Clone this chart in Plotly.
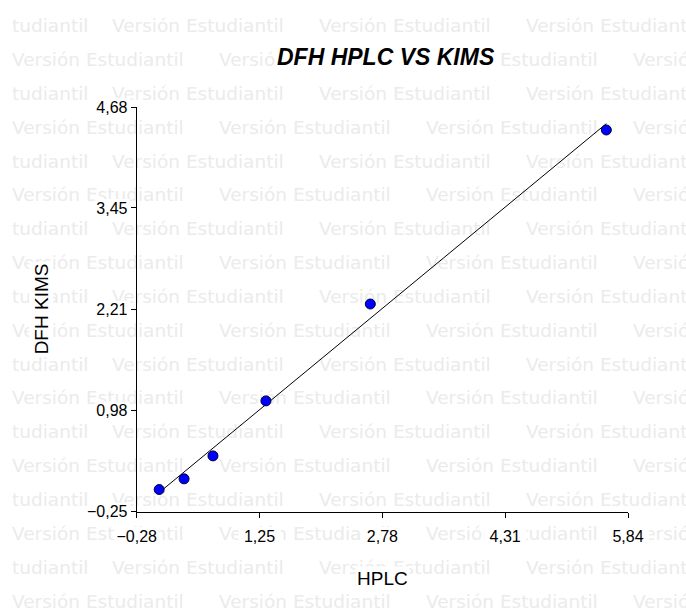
import numpy as np
import plotly.graph_objects as go

# ---- data ----
hplc = [0.00, 0.31, 0.67, 1.33, 2.63, 5.57]
kims = [0.02, 0.15, 0.43, 1.10, 2.28, 4.40]
x_ticks = [-0.28, 1.25, 2.78, 4.31, 5.84]
y_ticks = [-0.25, 0.98, 2.21, 3.45, 4.68]
chart_title = "DFH HPLC VS KIMS"
x_title = "HPLC"
y_title = "DFH KIMS"
watermark = "Versión Estudiantil"
watermark_tail = "tudiantil"

W, H = 686, 608
AX_L, AX_R, AX_T, AX_B = 136.7, 628.0, 107.0, 511.7

# ---- watermark (style layer, pixel coordinates) ----
wx, wy, wt = [], [], []
for i in range(18):
    yy = 27.5 + 33.85 * i
    if i % 2 == 0:
        wx.append(12); wy.append(yy); wt.append(watermark_tail)
        starts = [112 + 207 * k for k in range(3)]
    else:
        starts = [12 + 207 * k for k in range(4)]
    for s in starts:
        wx.append(s); wy.append(yy); wt.append(watermark)

# white boxes behind tick labels (derived from tick positions)
def xpix(v):
    return AX_L + (v - x_ticks[0]) / (x_ticks[-1] - x_ticks[0]) * (AX_R - AX_L)

def ypix(v):
    return AX_B - (v - y_ticks[0]) / (y_ticks[-1] - y_ticks[0]) * (AX_B - AX_T)

bx, by = [], []
def box(x0, x1, y0, y1):
    bx.extend([x0, x1, x1, x0, x0, None])
    by.extend([y0, y0, y1, y1, y0, None])

for t in x_ticks:
    c = xpix(t)
    box(c - 21, c + 21, 527, 545)
for t in y_ticks:
    c = ypix(t)
    box(95, 130, c - 9, c + 9)

fig = go.Figure()
fig.add_trace(go.Scatter(
    x=wx, y=wy, text=wt, mode="text", textposition="middle right",
    textfont=dict(family="DejaVu Sans", size=18.5, color="#ebebeb"),
    xaxis="x", yaxis="y", hoverinfo="skip", showlegend=False, cliponaxis=False))
fig.add_trace(go.Scatter(
    x=bx, y=by, mode="lines", fill="toself", fillcolor="white",
    line=dict(width=0, color="white"), xaxis="x", yaxis="y",
    hoverinfo="skip", showlegend=False))

# regression line from the data
coef = np.polyfit(hplc, kims, 1)
fit_x = [min(hplc), max(hplc)]
fit_y = list(np.polyval(coef, fit_x))
fig.add_trace(go.Scatter(
    x=fit_x, y=fit_y, mode="lines", line=dict(color="black", width=1),
    xaxis="x2", yaxis="y2", showlegend=False, hoverinfo="skip"))
fig.add_trace(go.Scatter(
    x=hplc, y=kims, mode="markers",
    marker=dict(color="#0000ff", size=10, line=dict(color="#000033", width=1)),
    xaxis="x2", yaxis="y2", showlegend=False))

tickfont = dict(family="Liberation Sans, Arial", size=16, color="black")
axis_common = dict(showline=True, linecolor="black", linewidth=1, ticks="outside",
                   ticklen=5, tickwidth=1, tickcolor="black", showgrid=False,
                   zeroline=False, tickformat=".2f", tickfont=tickfont, fixedrange=True,
                   automargin=False)

fig.update_layout(
    width=W, height=H, autosize=False,
    margin=dict(l=0, r=0, t=0, b=0, pad=0, autoexpand=False),
    paper_bgcolor="white", plot_bgcolor="rgba(0,0,0,0)",
    separators=",.",
    xaxis=dict(domain=[0, 1], range=[0, W], visible=False, fixedrange=True, automargin=False),
    yaxis=dict(domain=[0, 1], range=[H, 0], visible=False, fixedrange=True, automargin=False),
    xaxis2=dict(domain=[AX_L / W, AX_R / W], anchor="y2",
                range=[x_ticks[0], x_ticks[-1]], tickvals=x_ticks,
                ticklabelstandoff=5, **axis_common),
    yaxis2=dict(domain=[1 - AX_B / H, 1 - AX_T / H], anchor="x2",
                range=[y_ticks[0], y_ticks[-1]], tickvals=y_ticks, **axis_common),
    annotations=[
        dict(text="<b><i>" + chart_title + "</i></b>", x=386 / W, y=1 - 57 / H,
             xref="paper", yref="paper", showarrow=False, xanchor="center", yanchor="middle",
             font=dict(family="Liberation Sans, Arial", size=23, color="black"), bgcolor="white"),
        dict(text=x_title, x=(AX_L + AX_R) / 2 / W, y=1 - 578 / H,
             xref="paper", yref="paper", showarrow=False, xanchor="center", yanchor="middle",
             font=dict(family="Liberation Sans, Arial", size=19, color="black"), bgcolor="white"),
        dict(text=y_title, x=41 / W, y=1 - (AX_T + AX_B) / 2 / H, textangle=-90,
             xref="paper", yref="paper", showarrow=False, xanchor="center", yanchor="middle",
             font=dict(family="Liberation Sans, Arial", size=19, color="black"), bgcolor="white"),
    ],
)

fig.write_html("out.html", config={"displayModeBar": False},
               post_script="document.body.style.margin='0px';")
